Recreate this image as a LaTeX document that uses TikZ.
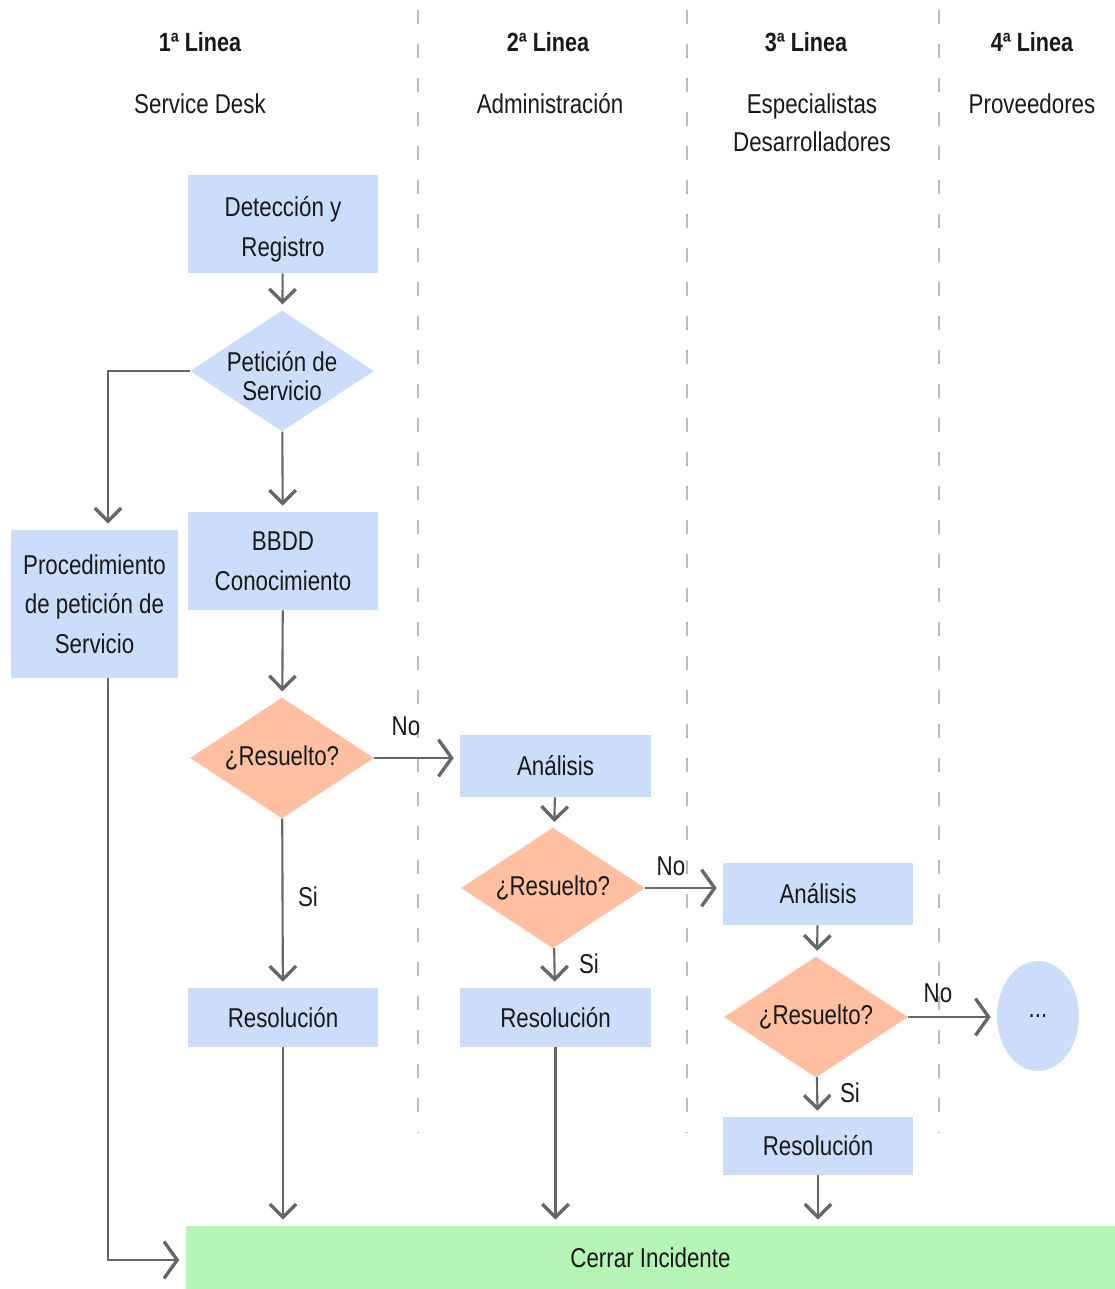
\documentclass[tikz,border=0pt]{standalone}
\usepackage{fontspec}
\setmainfont{Liberation Sans}[FakeStretch=0.82]
\usetikzlibrary{shapes.geometric,arrows.meta}
\definecolor{boxblue}{HTML}{CCDDFC}
\definecolor{decide}{HTML}{FFBFA0}
\definecolor{closegreen}{HTML}{B4F4B4}
\definecolor{wire}{HTML}{666666}
\definecolor{lane}{HTML}{BBBBBB}
\begin{document}
\begin{tikzpicture}[x=0.02cm,y=-0.02cm,
  txt/.style={font=\fontsize{15.5}{22.5}\selectfont,text=black!90,align=center},
  head/.style={txt,font=\fontsize{15}{20}\selectfont\bfseries},
  proc/.style={txt,fill=boxblue,draw=none,inner sep=0pt},
  dia/.style={diamond,fill=#1,draw=none,inner sep=0pt,minimum width=3.68cm,minimum height=2.42cm},
  dtext/.style={txt},
  vflow/.style={draw=wire,line width=1.2pt,shorten >=3.4pt,
    -{Straight Barb[length=7.5pt,width=15pt,line width=1.9pt]}},
  hflow/.style={draw=wire,line width=1.2pt,shorten >=3.4pt,
    -{Straight Barb[length=7.5pt,width=21pt,line width=1.9pt]}},
  lanesep/.style={draw=lane,line width=0.9pt,dash pattern=on 0.28cm off 0.4cm}
]
\useasboundingbox (0,0) rectangle (1115,1289);

% lane separators
\draw[lanesep] (418,10) -- (418,1132);
\draw[lanesep] (687,10) -- (687,1132);
\draw[lanesep] (939,10) -- (939,1132);

% lane headings
\node[head] (h1) at (200,42) {1ª Linea};
\node[head] (h2) at (548,42) {2ª Linea};
\node[head] (h3) at (806,42) {3ª Linea};
\node[head] (h4) at (1032,42) {4ª Linea};
\node[txt] (t1) at (200,104) {Service Desk};
\node[txt] (t2) at (550,104) {Administración};
\node[txt,anchor=north] (t3) at (812,88) {Especialistas\\[-1pt]Desarrolladores};
\node[txt] (t4) at (1032,104) {Proveedores};

% first line
\node[proc,minimum width=3.8cm,minimum height=1.96cm,
  label={[txt,yshift=-0.11cm]center:Detección y\\Registro}] (det) at (283,224) {};
\node[dia=boxblue,label={[dtext,yshift=-0.1cm]center:Petición de\\[-6pt]Servicio}] (pet) at (282,371) {};
\node[proc,minimum width=3.8cm,minimum height=1.96cm] (bbdd) at (283,561) {BBDD\\Conocimiento};
\node[proc,minimum width=3.34cm,minimum height=2.96cm] (pps) at (94.5,604) {Procedimiento\\de petición de\\Servicio};
\node[dia=decide,label={[dtext]center:¿Resuelto?}] (q1) at (282,758) {};
\node[proc,minimum width=3.8cm,minimum height=1.18cm] (r1) at (283,1017.5) {Resolución};

% second line
\node[proc,minimum width=3.82cm,minimum height=1.24cm] (a2) at (555.5,766) {Análisis};
\node[dia=decide,label={[dtext]center:¿Resuelto?}] (q2) at (553,888) {};
\node[proc,minimum width=3.82cm,minimum height=1.18cm] (r2) at (555.5,1017.5) {Resolución};

% third line
\node[proc,minimum width=3.8cm,minimum height=1.24cm] (a3) at (818,894) {Análisis};
\node[dia=decide,label={[dtext]center:¿Resuelto?}] (q3) at (816,1017) {};
\node[proc,minimum width=3.8cm,minimum height=1.16cm] (r3) at (818,1146) {Resolución};

% fourth line
\node[ellipse,fill=boxblue,draw=none,minimum width=1.64cm,minimum height=2.2cm,inner sep=0pt,txt] (more) at (1038,1016) {...};

% closing
\node[fill=closegreen,draw=none,minimum width=18.6cm,minimum height=1.26cm,inner sep=0pt,txt] (close) at (650.5,1257.5) {Cerrar Incidente};

% connectors
\draw[vflow] (det) -- (pet);
\draw[vflow] (pet) -- (bbdd);
\draw[vflow] (pet.west) -| ([xshift=0.27cm]pps.north);
\draw[vflow] (bbdd) -- (q1);
\draw[vflow] (q1) -- (r1);
\draw[hflow] (q1.east) -- (a2.west |- q1.east);
\draw[vflow] (a2) -- (q2);
\draw[vflow] (q2) -- (r2);
\draw[hflow] (q2.east) -- (a3.west |- q2.east);
\draw[vflow] (a3) -- (q3);
\draw[vflow] (q3) -- (r3);
\draw[hflow] (q3.east) -- (more.west |- q3.east);
\draw[vflow] (r1) -- (r1.south |- close.north);
\draw[vflow] (r2) -- (r2.south |- close.north);
\draw[vflow] (r3) -- (r3.south |- close.north);
\draw[hflow] ([xshift=0.27cm]pps.south) |- ([yshift=-0.05cm]close.west);

% branch labels
\node[txt] (n1) at (406,726) {No};
\node[txt] (s1) at (308,897) {Si};
\node[txt] (n2) at (671,866) {No};
\node[txt] (s2) at (589,964) {Si};
\node[txt] (n3) at (938,993) {No};
\node[txt] (s3) at (850,1093) {Si};
\end{tikzpicture}
\end{document}
